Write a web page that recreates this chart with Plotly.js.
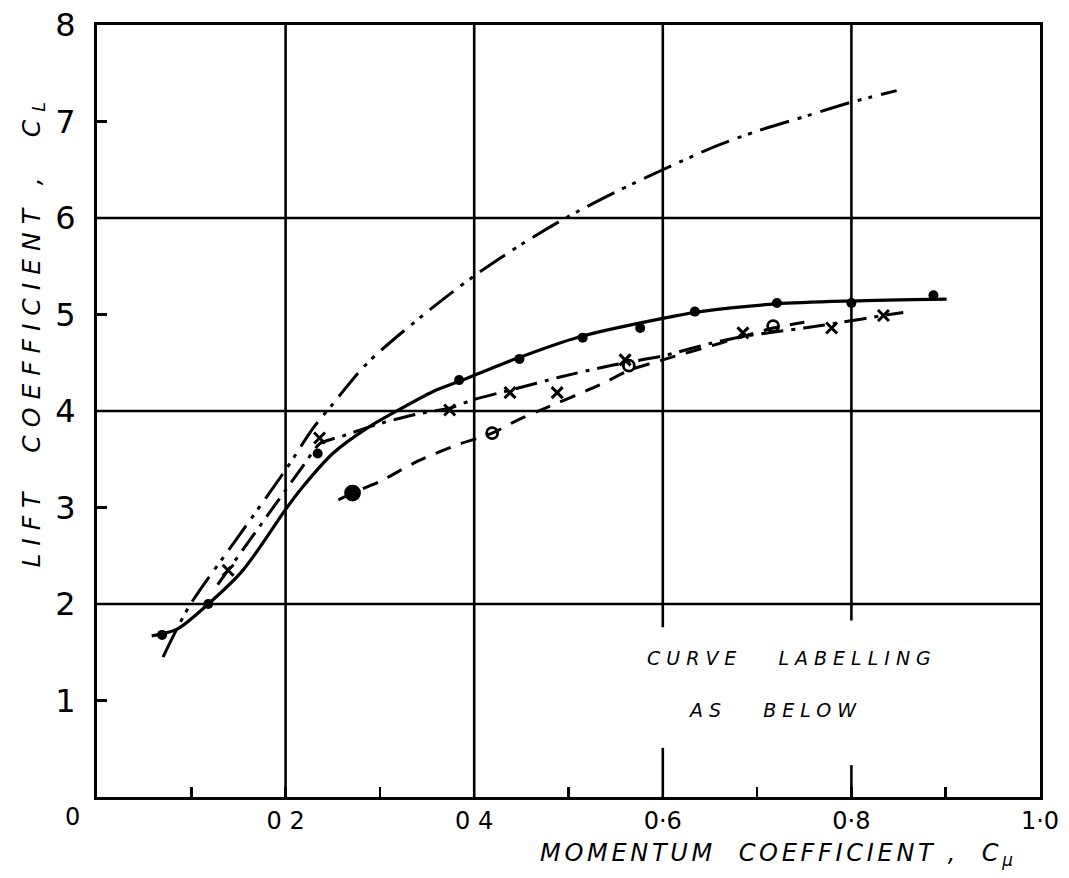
<!DOCTYPE html>
<html>
<head>
<meta charset="utf-8">
<script src="https://cdn.plot.ly/plotly-3.0.1.min.js"></script>
<style>
  html, body { margin: 0; padding: 0; background: #fff; }
  #chart { width: 1069px; height: 878px; }
  /* hand-lettered spacing for the titles and the note */
  .annotation[data-index="0"] text { letter-spacing: 8px; }
  .annotation[data-index="1"] text { letter-spacing: 3.7px; }
  .annotation[data-index="2"] text { letter-spacing: 6px; }
  .annotation[data-index="3"] text { letter-spacing: 6px; }
</style>
</head>
<body>
<div id="chart"></div>
<script>
// Momentum coefficient (C_mu) against lift coefficient (C_L)

// Test points: filled dots
const cmuDots = [0.069, 0.118, 0.234, 0.384, 0.448, 0.515, 0.576, 0.634, 0.721, 0.800, 0.887];
const clDots  = [1.68, 2.00, 3.56, 4.32, 4.54, 4.76, 4.86, 5.03, 5.12, 5.12, 5.20];
// Faired solid curve through the dots
const cmuSolidCurve = [0.058, 0.085, 0.118, 0.153, 0.175, 0.200, 0.217, 0.250, 0.286, 0.316, 0.356, 0.385, 0.441, 0.512, 0.600, 0.640, 0.720, 0.800, 0.901];
const clSolidCurve  = [1.67, 1.74, 2.00, 2.33, 2.62, 2.98, 3.20, 3.56, 3.82, 3.99, 4.20, 4.31, 4.53, 4.77, 4.96, 5.03, 5.11, 5.14, 5.16];

// Test points: crosses
const cmuCross = [0.139, 0.236, 0.374, 0.438, 0.488, 0.560, 0.685, 0.779, 0.834];
const clCross  = [2.35, 3.72, 4.01, 4.19, 4.19, 4.53, 4.81, 4.86, 4.99];
// Faired chain-dotted curve through the crosses
const cmuCrossCurve = [0.128, 0.139, 0.170, 0.200, 0.220, 0.236, 0.260, 0.300, 0.340, 0.374, 0.400, 0.440, 0.490, 0.530, 0.560, 0.600, 0.650, 0.690, 0.750, 0.790, 0.834, 0.855];
const clCrossCurve  = [2.20, 2.35, 2.77, 3.18, 3.45, 3.66, 3.74, 3.87, 3.97, 4.03, 4.12, 4.22, 4.35, 4.44, 4.50, 4.57, 4.70, 4.78, 4.86, 4.92, 4.99, 5.02];

// Test points: open circles (first one filled)
const cmuCircle = [0.271, 0.419, 0.564, 0.717];
const clCircle  = [3.15, 3.77, 4.47, 4.88];
const circleSymbols = ['circle', 'circle-open', 'circle-open', 'circle-open'];
// Faired dashed curve through the circles
const cmuCircleCurve = [0.256, 0.271, 0.300, 0.340, 0.385, 0.419, 0.445, 0.473, 0.533, 0.564, 0.600, 0.660, 0.717, 0.750];
const clCircleCurve  = [3.08, 3.15, 3.27, 3.48, 3.66, 3.77, 3.90, 4.02, 4.27, 4.42, 4.53, 4.70, 4.86, 4.92];

// Upper chain-double-dotted curve (no points)
const cmuTopCurve = [0.070, 0.098, 0.150, 0.200, 0.229, 0.249, 0.287, 0.353, 0.400, 0.449, 0.497, 0.550, 0.600, 0.655, 0.700, 0.750, 0.800, 0.848];
const clTopCurve  = [1.45, 1.98, 2.70, 3.39, 3.82, 4.06, 4.50, 5.05, 5.40, 5.72, 6.00, 6.27, 6.50, 6.74, 6.90, 7.05, 7.20, 7.32];

// Axis ticks and labels (short ticks at the odd tenths carry no label)
const xTickVals = [0.1, 0.2, 0.3, 0.4, 0.5, 0.6, 0.7, 0.8, 0.9, 1.0];
const xTickText = ['', '0 2', '', '0 4', '', '0·6', '', '0·8', '', '1·0'];
const yTickVals = [1, 2, 3, 4, 5, 6, 7, 8];
const yTickText = ['1', '2', '3', '4', '5', '6', '7', '8'];

// Grid rules: horizontal at even C_L, vertical at every 0.2 of C_mu
const yGridVals = [2, 4, 6];
const xGridVals = [0.2, 0.4, 0.6, 0.8];
// Vertical rules are broken where the note sits: [from, to] in C_L
const xGridSpans = [
  [[0, 8]],
  [[0, 8]],
  [[0, 0.51], [1.76, 8]],
  [[0, 0.33], [1.83, 8]]
];

const ink = '#000';

const traces = [
  {x: cmuTopCurve, y: clTopCurve, mode: 'lines',
   line: {color: ink, width: 3, shape: 'spline', smoothing: 0.8, dash: '30px,9px,4px,7px,4px,9px'}},
  {x: cmuSolidCurve, y: clSolidCurve, mode: 'lines',
   line: {color: ink, width: 3.2, shape: 'spline', smoothing: 0.8}},
  {x: cmuCrossCurve, y: clCrossCurve, mode: 'lines',
   line: {color: ink, width: 3, shape: 'spline', smoothing: 0.6, dash: '22px,8px,4px,8px'}},
  {x: cmuCircleCurve, y: clCircleCurve, mode: 'lines',
   line: {color: ink, width: 3, shape: 'spline', smoothing: 0.8, dash: '16px,11px'}},
  {x: cmuDots, y: clDots, mode: 'markers',
   marker: {color: ink, size: 10, symbol: 'circle', opacity: 1}},
  {x: cmuCross, y: clCross, mode: 'markers',
   marker: {color: ink, size: 11, symbol: 'x-thin', opacity: 1, line: {color: ink, width: 3}}},
  {x: cmuCircle, y: clCircle, mode: 'markers',
   marker: {color: ink, size: [14, 11, 11, 11], symbol: circleSymbols, opacity: 1, line: {color: ink, width: 2.8}}}
];

const shapes = [];
yGridVals.forEach(v => shapes.push({
  type: 'line', xref: 'paper', x0: 0, x1: 1, yref: 'y', y0: v, y1: v,
  layer: 'below', line: {color: ink, width: 2.6}
}));
xGridVals.forEach((v, i) => xGridSpans[i].forEach(s => shapes.push({
  type: 'line', xref: 'x', x0: v, x1: v, yref: 'y', y0: s[0], y1: s[1],
  layer: 'below', line: {color: ink, width: 2.6}
})));

const hand = {family: 'DejaVu Sans, sans-serif', color: ink, style: 'italic'};
const centred = {xanchor: 'center', yanchor: 'middle', showarrow: false, xref: 'paper', yref: 'paper'};

const layout = {
  width: 1069, height: 878,
  margin: {l: 97, r: 29, t: 25, b: 81},
  paper_bgcolor: '#fff', plot_bgcolor: '#fff',
  showlegend: false,
  xaxis: {
    range: [0, 1], tickmode: 'array', tickvals: xTickVals, ticktext: xTickText,
    ticks: 'inside', ticklen: 10, tickwidth: 2.5, tickcolor: ink,
    showgrid: false, zeroline: false,
    showline: true, mirror: true, linecolor: ink, linewidth: 3,
    tickfont: {family: 'DejaVu Sans, sans-serif', size: 24, color: ink},
    ticklabelstandoff: 0
  },
  yaxis: {
    range: [0, 8], tickmode: 'array', tickvals: yTickVals, ticktext: yTickText,
    ticks: 'inside', ticklen: 10, tickwidth: 2.5, tickcolor: ink,
    showgrid: false, zeroline: false,
    showline: true, mirror: true, linecolor: ink, linewidth: 3,
    tickfont: {family: 'DejaVu Sans, sans-serif', size: 32, color: ink},
    ticklabelstandoff: 12
  },
  shapes: shapes,
  annotations: [
    Object.assign({text: 'LIFT\u00a0\u00a0COEFFICIENT\u00a0,\u00a0\u00a0C<sub>L</sub>',
      x: -0.068, y: 0.604, textangle: -90, font: Object.assign({size: 25}, hand)}, centred),
    Object.assign({text: 'MOMENTUM\u00a0\u00a0COEFFICIENT\u00a0,\u00a0\u00a0C<sub>μ</sub>',
      x: 0.723, y: -0.075, font: Object.assign({size: 24}, hand)}, centred),
    Object.assign({text: 'CURVE\u00a0\u00a0\u00a0LABELLING',
      x: 0.737, y: 0.180, font: Object.assign({size: 19}, hand)}, centred),
    Object.assign({text: 'AS\u00a0\u00a0\u00a0BELOW',
      x: 0.719, y: 0.113, font: Object.assign({size: 19}, hand)}, centred),
    Object.assign({text: '0',
      x: -0.0265, y: -0.026, font: {family: 'DejaVu Sans, sans-serif', size: 24, color: ink}}, centred)
  ]
};

Plotly.newPlot('chart', traces, layout, {staticPlot: true, displayModeBar: false});
</script>
</body>
</html>
